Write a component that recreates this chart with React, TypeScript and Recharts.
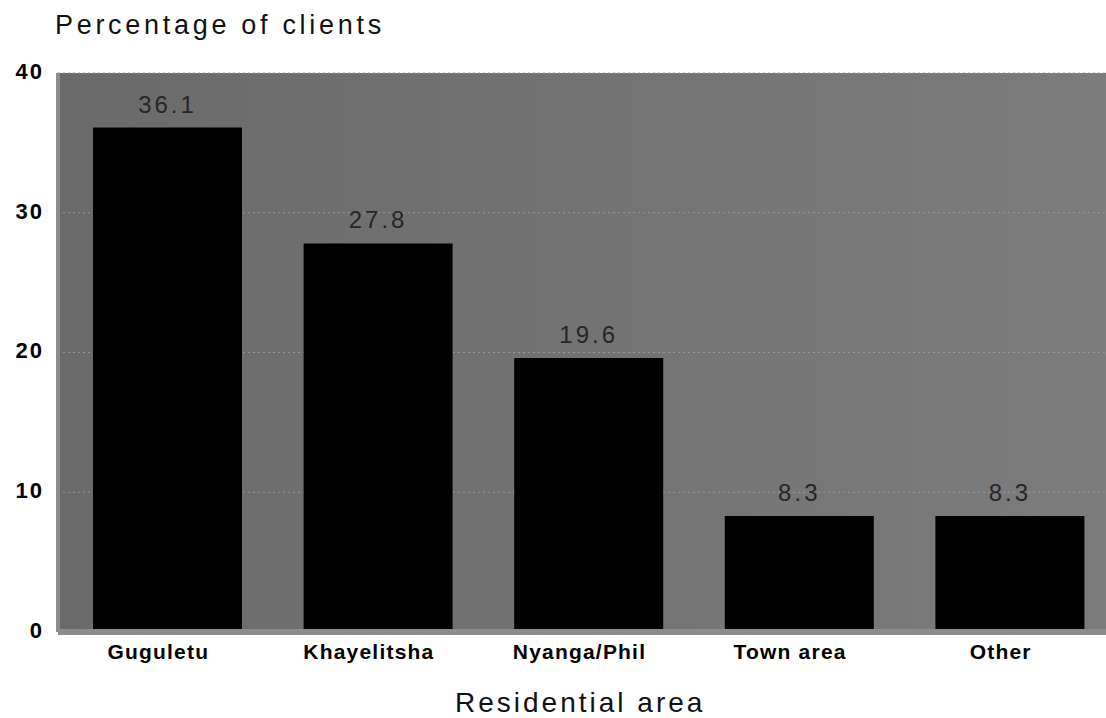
import React from "react";
import { BarChart, Bar, XAxis, YAxis, CartesianGrid, LabelList } from "recharts";

const areas = ["Guguletu", "Khayelitsha", "Nyanga/Phil", "Town area", "Other"];
const percentages = [36.1, 27.8, 19.6, 8.3, 8.3];
const yTicks = [0, 10, 20, 30, 40];

const data = areas.map((name, i) => ({ name, value: percentages[i] }));

const font = "Arial, 'Liberation Sans', sans-serif";

export default function App() {
  return (
    <div style={{ position: "absolute", left: 0, top: 0, width: 1106, height: 718, background: "#fff", fontFamily: font }}>
      <div style={{ position: "absolute", left: 55, top: 10, fontSize: 27, letterSpacing: 3.7, color: "#111", whiteSpace: "nowrap" }}>
        Percentage of clients
      </div>
      <BarChart
        width={1106}
        height={718}
        data={data}
        margin={{ top: 73, right: 0, bottom: 56, left: 0 }}
        barSize={149}
      >
        <defs>
          <linearGradient id="plotBg" x1="0" y1="0" x2="1" y2="0">
            <stop offset="0%" stopColor="#6a6a6a" />
            <stop offset="100%" stopColor="#7c7c7c" />
          </linearGradient>
        </defs>
        <CartesianGrid
          vertical={false}
          fill="url(#plotBg)"
          fillOpacity={1}
          stroke="#989898"
          strokeDasharray="2 3"
        />
        <XAxis
          dataKey="name"
          height={30}
          padding={{ left: 4, right: -9 }}
          tickLine={false}
          tickSize={0}
          tickMargin={12}
          axisLine={{ stroke: "#8c8c8c", strokeWidth: 6 }}
          tick={{ fill: "#000", fontSize: 21, fontWeight: "bold", fontFamily: font, letterSpacing: 1.2, dx: -9 }}
          interval={0}
        />
        <YAxis
          width={58}
          domain={[0, 40]}
          ticks={yTicks}
          tickLine={false}
          tickSize={0}
          tickMargin={14}
          axisLine={{ stroke: "#8c8c8c", strokeWidth: 4 }}
          tick={{ fill: "#000", fontSize: 22, fontWeight: "bold", fontFamily: font, letterSpacing: 2, dy: -2 }}
        />
        <Bar dataKey="value" fill="#000" isAnimationActive={false}>
          <LabelList
            dataKey="value"
            position="top"
            offset={15}
            fill="#262626"
            fontSize={24}
            fontFamily={font}
            letterSpacing={3}
          />
        </Bar>
      </BarChart>
      <div style={{ position: "absolute", left: 455, top: 687, fontSize: 28, letterSpacing: 3, color: "#111", whiteSpace: "nowrap" }}>
        Residential area
      </div>
    </div>
  );
}
